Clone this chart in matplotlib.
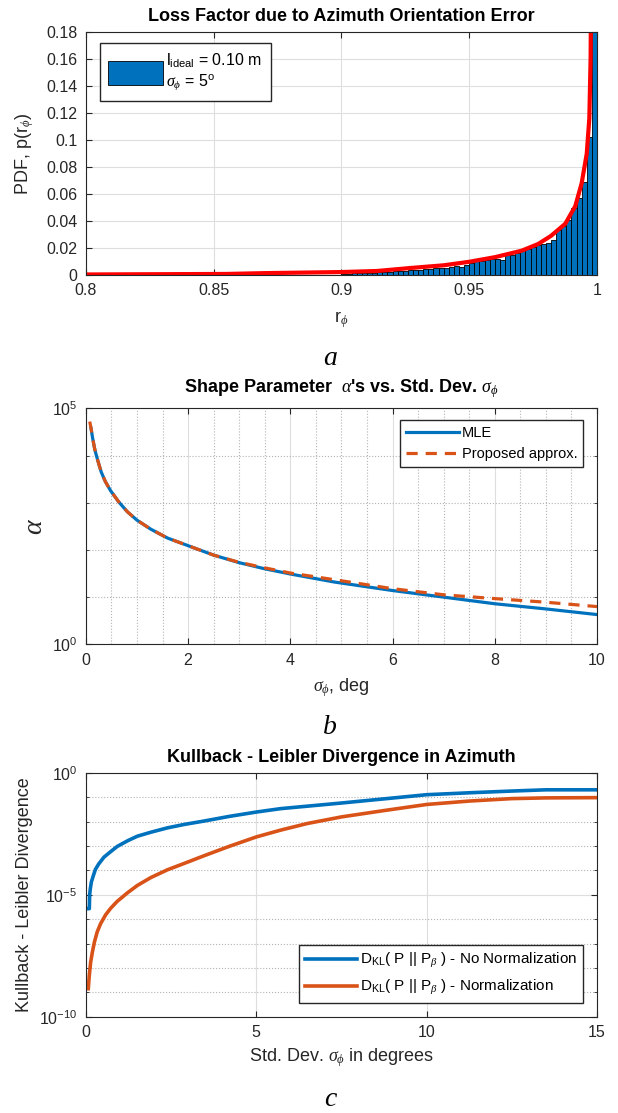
import numpy as np
import matplotlib.pyplot as plt
from matplotlib.ticker import FixedLocator, NullFormatter

plt.rcParams['font.family'] = ['Liberation Sans', 'DejaVu Sans']
plt.rcParams['mathtext.fontset'] = 'custom'
plt.rcParams['mathtext.rm'] = 'Liberation Sans'
plt.rcParams['mathtext.it'] = 'Liberation Serif:italic'
plt.rcParams['mathtext.bf'] = 'Liberation Sans:bold'

BLUE = (0.0, 0.447, 0.741)
ORANGE = (0.85, 0.325, 0.098)
AXCOL = '0.15'

# ---- panel a: histogram of r_phi (bin width 0.002) + fitted pdf
bin_left = np.round(np.arange(0.900, 1.0, 0.002), 3)
bin_height = [0.0005, 0.0008, 0.0012, 0.0013, 0.0015, 0.0016, 0.0018, 0.0020, 0.0022, 0.0026,
              0.0028, 0.0030, 0.0032, 0.0035, 0.0037, 0.0040, 0.0043, 0.0046, 0.0049, 0.0053,
              0.0055, 0.0060, 0.0065, 0.0063, 0.0075, 0.0088, 0.0118, 0.0105, 0.0112, 0.0115,
              0.0122, 0.0110, 0.0155, 0.0152, 0.0160, 0.0195, 0.0190, 0.0205, 0.0225, 0.0230,
              0.0235, 0.0260, 0.0330, 0.0360, 0.0410, 0.0500, 0.0570, 0.0690, 0.1020, 0.4500]
pdf_r = [0.80, 0.855, 0.87, 0.90, 0.914, 0.927, 0.94, 0.95, 0.96, 0.9705, 0.977, 0.982,
         0.9876, 0.9915, 0.994, 0.996, 0.997, 0.9975, 0.998]
pdf_p = [0.0004, 0.0008, 0.0014, 0.0022, 0.003, 0.0052, 0.0072, 0.0098, 0.0132, 0.018, 0.023,
         0.029, 0.038, 0.051, 0.068, 0.090, 0.116, 0.16, 0.3]

# ---- panel b: shape parameter alpha vs sigma
sig_mle = [0.1, 0.13, 0.17, 0.2, 0.25, 0.3, 0.38, 0.48, 0.64, 0.81, 1.0, 1.27, 1.6, 2.0,
           2.5, 3.0, 3.5, 4.0, 4.86, 6.0, 7.0, 8.0, 9.0, 10.0]
alpha_mle = [38000, 24000, 14100, 10500, 6760, 4470, 2820, 1820, 1050, 646, 427, 275, 178,
             123, 77.6, 53.7, 39.8, 30.9, 20.9, 13.8, 10.0, 7.24, 5.62, 4.27]
sig_apx = [0.075, 0.1, 0.13, 0.17, 0.2, 0.25, 0.3, 0.38, 0.48, 0.64, 0.81, 1.0, 1.27, 1.6,
           2.0, 2.5, 3.0, 3.5, 4.0, 4.86, 6.0, 7.0, 8.0, 9.0, 10.0]
alpha_apx = [52500, 38000, 24000, 14100, 10500, 6760, 4470, 2820, 1820, 1050, 646, 427, 275,
             178, 123, 77.6, 54.5, 41.7, 32.4, 23.4, 15.1, 11.2, 9.3, 7.8, 6.3]

# ---- panel c: KL divergence
sig_nonorm = [0.05, 0.1, 0.11, 0.13, 0.16, 0.22, 0.28, 0.38, 0.53, 0.73, 0.92, 1.22, 1.51,
              1.9, 2.39, 2.88, 3.47, 4.2, 5.0, 5.72, 6.5, 7.5, 8.75, 10.0, 11.25, 12.5,
              13.5, 15.0]
kl_nonorm = [2.69e-6, 2.69e-6, 1.0e-5, 1.78e-5, 3.31e-5, 6.17e-5, 1.10e-4, 1.86e-4, 3.47e-4,
             5.89e-4, 9.55e-4, 1.62e-3, 2.51e-3, 3.63e-3, 5.50e-3, 7.59e-3, 1.05e-2, 1.62e-2,
             2.45e-2, 3.39e-2, 4.27e-2, 5.75e-2, 8.51e-2, 0.126, 0.151, 0.178, 0.200, 0.200]
sig_norm = [0.07, 0.1, 0.14, 0.19, 0.25, 0.33, 0.43, 0.58, 0.73, 0.92, 1.22, 1.51, 1.9, 2.39,
            2.88, 3.47, 4.2, 5.0, 5.72, 6.5, 7.5, 8.75, 10.0, 11.25, 12.5, 13.5, 15.0]
kl_norm = [1.41e-9, 5.01e-9, 1.74e-8, 4.47e-8, 1.15e-7, 2.95e-7, 6.46e-7, 1.51e-6, 2.82e-6,
           5.37e-6, 1.20e-5, 2.40e-5, 5.01e-5, 1.05e-4, 1.91e-4, 3.98e-4, 9.55e-4, 2.34e-3,
           4.47e-3, 8.32e-3, 1.55e-2, 2.82e-2, 5.01e-2, 6.92e-2, 8.71e-2, 9.33e-2, 9.55e-2]


def style_axes(ax):
    for s in ax.spines.values():
        s.set_color(AXCOL)
        s.set_linewidth(0.8)
    ax.tick_params(which='both', direction='in', top=True, right=True, colors=AXCOL,
                   labelsize=11.5, labelcolor=AXCOL)
    ax.tick_params(which='major', length=4, pad=6)
    ax.tick_params(which='minor', length=2.5)
    ax.grid(True, which='major', color='0.87', linewidth=0.8)
    ax.set_axisbelow(True)


def place_labels(ax, xl_y, yl_x):
    ax.xaxis.set_label_coords(0.5, xl_y)
    ax.xaxis.label.set_va('center')
    ax.yaxis.set_label_coords(yl_x, 0.5)
    ax.yaxis.label.set_va('center')


fig = plt.figure(figsize=(6.18, 11.13), dpi=100)

# a
ax1 = fig.add_axes([0.139, 0.7529, 0.827, 0.2183])
style_axes(ax1)
ax1.bar(bin_left, bin_height, width=0.002, align='edge', color=BLUE, edgecolor='black',
        linewidth=0.6, label='l$_{\\mathrm{ideal}}$ = 0.10 m\n$\\sigma_\\phi$ = 5$^{\\mathrm{o}}$')
ax1.plot(pdf_r, pdf_p, color='red', linewidth=3)
ax1.set_xlim(0.8, 1.0)
ax1.set_ylim(0, 0.18)
ax1.set_xticks([0.8, 0.85, 0.9, 0.95, 1.0], ['0.8', '0.85', '0.9', '0.95', '1'])
ax1.set_yticks(np.round(np.arange(0, 0.19, 0.02), 2),
               ['0', '0.02', '0.04', '0.06', '0.08', '0.1', '0.12', '0.14', '0.16', '0.18'])
ax1.set_title('Loss Factor due to Azimuth Orientation Error', fontsize=13, fontweight='bold',
              y=1.0465, pad=0, color='black')
ax1.set_xlabel('r$_\\phi$', fontsize=13, color=AXCOL)
ax1.set_ylabel('PDF, p(r$_\\phi$)', fontsize=13, color=AXCOL)
place_labels(ax1, -0.185, -0.121)
leg = ax1.legend(loc='upper left', bbox_to_anchor=(0.027, 0.955), borderaxespad=0,
                 fontsize=11.5, handlelength=3.4, handleheight=2.0, fancybox=False,
                 framealpha=1, edgecolor=AXCOL, handletextpad=0.2, borderpad=0.55)
leg.get_frame().set_linewidth(1.0)

# b
ax2 = fig.add_axes([0.139, 0.4211, 0.827, 0.2120])
style_axes(ax2)
ax2.set_yscale('log')
ax2.plot(sig_mle, alpha_mle, color=BLUE, linewidth=2.3, label='MLE')
ax2.plot(sig_apx, alpha_apx, color=ORANGE, linewidth=2.3, dashes=(3.5, 2.5),
         label='Proposed approx.')
ax2.set_xlim(0, 10)
ax2.set_ylim(1, 1e5)
ax2.set_xticks([0, 2, 4, 6, 8, 10])
ax2.xaxis.set_minor_locator(FixedLocator([0.5, 1, 1.5, 2.5, 3, 3.5, 4.5, 5, 5.5, 6.5, 7, 7.5,
                                          8.5, 9, 9.5]))
ax2.set_yticks([1, 1e5])
ax2.yaxis.set_minor_locator(FixedLocator([10, 100, 1000, 1e4]))
ax2.yaxis.set_minor_formatter(NullFormatter())
ax2.tick_params(axis='x', which='minor', length=0)
ax2.grid(True, which='minor', linestyle=':', color='0.7', linewidth=0.8)
ax2.set_title("Shape Parameter  $\\alpha$'s vs. Std. Dev. $\\sigma_\\phi$", fontsize=13,
              fontweight='bold', y=1.07, pad=0, color='black')
ax2.set_xlabel('$\\sigma_\\phi$, deg', fontsize=13, color=AXCOL)
ax2.set_ylabel('$\\alpha$', fontsize=20, color=AXCOL, rotation=90)
place_labels(ax2, -0.185, -0.10)
leg = ax2.legend(loc='upper right', bbox_to_anchor=(0.973, 0.95), borderaxespad=0,
                 fontsize=10.5, handlelength=3.6, fancybox=False, framealpha=1,
                 edgecolor=AXCOL, handletextpad=0.2, borderpad=0.4)
leg.get_frame().set_linewidth(1.0)

# c
ax3 = fig.add_axes([0.139, 0.0865, 0.827, 0.2192])
style_axes(ax3)
ax3.set_yscale('log')
ax3.plot(sig_nonorm, kl_nonorm, color=BLUE, linewidth=2.6,
         label='D$_{\\mathrm{KL}}$( P || P$_\\beta$ ) - No Normalization')
ax3.plot(sig_norm, kl_norm, color=ORANGE, linewidth=2.6,
         label='D$_{\\mathrm{KL}}$( P || P$_\\beta$ ) - Normalization')
ax3.set_xlim(0, 15)
ax3.set_ylim(1e-10, 1)
ax3.set_xticks([0, 5, 10, 15])
ax3.set_yticks([1e-10, 1e-5, 1])
ax3.yaxis.set_minor_locator(FixedLocator([1e-9, 1e-8, 1e-7, 1e-6, 1e-4, 1e-3, 1e-2, 1e-1]))
ax3.yaxis.set_minor_formatter(NullFormatter())
ax3.grid(True, which='minor', axis='y', linestyle=':', color='0.7', linewidth=0.8)
ax3.set_title('Kullback - Leibler Divergence in Azimuth', fontsize=13, fontweight='bold',
              y=1.045, pad=0, color='black')
ax3.set_xlabel('Std. Dev. $\\sigma_\\phi$ in degrees', fontsize=13, color=AXCOL)
ax3.set_ylabel('Kullback - Leibler Divergence', fontsize=13, color=AXCOL)
place_labels(ax3, -0.169, -0.121)
leg = ax3.legend(loc='lower right', bbox_to_anchor=(0.973, 0.056), borderaxespad=0,
                 fontsize=11, handlelength=3.4, fancybox=False, framealpha=1,
                 edgecolor=AXCOL, handletextpad=0.2, borderpad=0.4)
leg.get_frame().set_linewidth(1.0)

# panel letters
for ypos, letter in [(0.678, 'a'), (0.346, 'b'), (0.0117, 'c')]:
    fig.text(0.534, ypos, letter, fontsize=20, fontstyle='italic', family='Liberation Serif',
             ha='center', va='center')

fig.savefig('out.png', dpi=100)
